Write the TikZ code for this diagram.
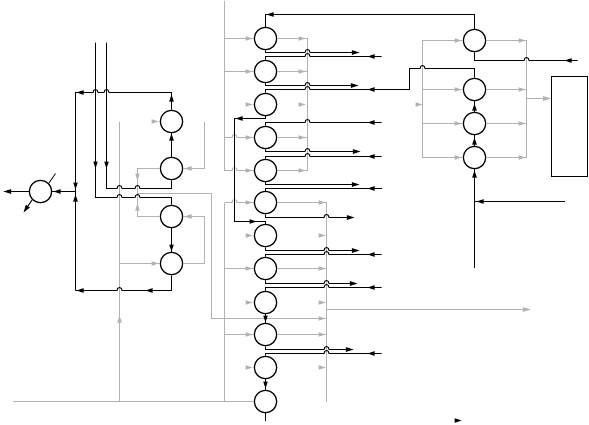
\documentclass[tikz,border=0pt]{standalone}
\usetikzlibrary{arrows.meta}
\definecolor{gl}{gray}{0.7}
\newcommand\jumpR[2]{-- ({#1-2.5},#2) .. controls ({#1-2.5},{#2-4}) and ({#1+2.5},{#2-4}) .. ({#1+2.5},#2)}
\newcommand\jumpL[2]{-- ({#1+2.5},#2) .. controls ({#1+2.5},{#2-4}) and ({#1-2.5},{#2-4}) .. ({#1-2.5},#2)}
\newcommand\ah[4]{\fill[#4,shift={(#1,#2)},rotate=#3] (0,0) -- (-7,2.3) -- (-7,-2.3) -- cycle;}
\tikzset{
  blk/.style={black,line width=0.8pt},
  gry/.style={gl,line width=0.75pt},
  tipb/.style={-{Triangle[length=6.5pt,width=3.8pt]}},
  ring/.style={circle,draw=black,line width=1.05pt,minimum size=19pt,inner sep=0pt,fill=white},
  boxn/.style={draw=black,line width=1.1pt,minimum width=30.6pt,minimum height=85pt,inner sep=0pt}
}
\begin{document}
\begin{tikzpicture}[x=0.85pt,y=-0.85pt]
\useasboundingbox (-0.5,-0.5) rectangle (588.5,423.5);
% nodes
\foreach \n/\yy in {1/38,2/71,3/104,4/137,5/170,6/202,7/235,8/268,9/302,10/334,11/367,12/401}
  \node[ring] (c\n) at (265,\yy) {};
\foreach \n/\yy in {1/121,2/168,3/216,4/263}
  \node[ring] (l\n) at (171,\yy) {};
\foreach \n/\yy in {1/40,2/89,3/123,4/157}
  \node[ring] (r\n) at (474,\yy) {};
\node[ring] (f) at (40,191) {};
\node[boxn] (box) at (569,126) {};
% free ends
\foreach \n/\xx/\yy in {
 a1/359/52,a2/381/56,a3/358/85,a4/354/217,a5/381/122,a6/360/151,a7/381/156,a8/359/184,a9/381/188,
 a10/359/250,a11/381/254,a12/357/283,a13/381/287,a14/353/349,a15/381/353,a16/265/420,
 b1/95/42,b2/106/42,b3/3/191,b4/23/212,b5/55/173,
 d1/577/60,d2/564/201,d3/474/267,
 g1/224/0,g2/224/170,g3/224/202,g4/224/401,g5/13/401,g6/119/121,g7/204/121,
 g8/530/309,g9/325/318,g10/211/193,g11/137/193,
 j1/75/92,j2/75/290,j3/234/118,j4/234/221,j5/75/191}
  \coordinate (\n) at (\xx,\yy);

% ---------- grey ----------
\draw[gry] (g1) -- (g2);
\draw[gry] (g3) -- (g4);
\draw[gry] (g5) -- (c12.west);
\draw[gry] (224,38) -- (c1.west);
\draw[gry,line width=0.95pt] (224,71) -- (c2.west);
\draw[gry] (224,137) \jumpR{234}{137} -- (c4.west);
\draw[gry] (g2) \jumpR{234}{170} -- (c5.west);
\draw[gry] (g3) \jumpR{234}{202} -- (c6.west);
\draw[gry] (224,268) -- (c8.west);
\draw[gry] (224,334) -- (c10.west);
\foreach \yy in {38,71,104,137,170,202,235,268,302,334,367} \ah{252}{\yy}{0}{gl}
\draw[gry] (c1.east) -- (307,38) -- (307,170) -- (c5.east);
\draw[gry,line width=0.95pt] (c2.east) -- (307,71);
\draw[gry] (c4.east) -- (307,137);
\foreach \yy in {38,71,104,137,170} \ah{305}{\yy}{0}{gl}
\draw[gry] (c6.east) -- (326,202) -- (326,401);
\draw[gry] (c8.east) -- (326,268);
\draw[gry] (c10.east) -- (326,334);
\foreach \yy in {202,235,268,302,334,367} \ah{325}{\yy}{0}{gl}
\draw[gry] (g11) -- (g10) -- (211,318) -- (g9);
\ah{325}{318}{0}{gl}
\draw[gry,tipb] (326,309) -- (g8);
% left cluster grey
\draw[gry] (g6) -- (119,401);
\ah{119}{315}{90}{gl}
\draw[gry] (119,263) -- (l4.west);
\ah{158}{263}{0}{gl}
\ah{158}{121}{0}{gl}
\draw[gry] (g7) -- (204,168) -- (l2.east);
\ah{184}{168}{180}{gl}
\draw[gry] (l4.east) -- (204,263) -- (204,216) -- (l3.east);
\ah{184}{216}{180}{gl}
\draw[gry] (l2.west) -- (137,168) -- (137,216) -- (l3.west);
\ah{137}{180}{270}{gl}
\ah{137}{203}{90}{gl}
% right cluster grey
\draw[gry] (r1.west) -- (422,40) -- (422,157) -- (r4.west);
\draw[gry] (422,89) -- (r2.west);
\draw[gry] (422,123) -- (r3.west);
\draw[gry] (r1.east) -- (526,40) -- (526,157) -- (r4.east);
\draw[gry] (r2.east) -- (526,89);
\draw[gry] (r3.east) -- (526,123);
\foreach \yy in {40,89,123,157} {\ah{461}{\yy}{0}{gl}\ah{525}{\yy}{0}{gl}}
\draw[gry,tipb] (526,98) -- (box.west |- 526,98);
\ah{422}{104}{0}{gl}

% ---------- black main column ----------
\draw[blk] (r1.north) -- (474,14) -- (265,14) -- (c1.north);
\ah{266}{14}{180}{black}
\draw[blk,tipb] (c1.south) -- (265,52) \jumpR{307}{52} -- (a1);
\draw[blk] (c2.north) -- (265,56) \jumpR{307}{56} -- (a2);
\ah{367}{56}{180}{black}
\draw[blk,tipb] (c2.south) -- (265,85) \jumpR{307}{85} -- (a3);
\draw[blk] (c3.north) -- (265,89) \jumpR{307}{89} -- (409,89) -- (409,68) \jumpR{422}{68} -- (474,68) -- (r2.north);
\ah{367}{89}{180}{black}
\draw[blk] (c3.south) -- (265,118) -- (j3) -- (j4) -- (265,221) -- (c7.north);
\ah{235}{118}{180}{black}
\ah{256}{221}{0}{black}
\draw[blk] (c4.north) -- (265,122) \jumpR{307}{122} -- (a5);
\ah{367}{122}{180}{black}
\draw[blk,tipb] (c4.south) -- (265,151) \jumpR{307}{151} -- (a6);
\draw[blk] (c5.north) -- (265,156) \jumpR{307}{156} -- (a7);
\ah{367}{156}{180}{black}
\draw[blk,tipb] (c5.south) -- (265,184) -- (a8);
\draw[blk] (c6.north) -- (265,188) -- (a9);
\ah{367}{188}{180}{black}
\draw[blk,tipb] (c6.south) -- (265,217) \jumpR{326}{217} -- (a4);
\draw[blk,tipb] (c7.south) -- (265,250) \jumpR{326}{250} -- (a10);
\draw[blk] (c8.north) -- (265,254) \jumpR{326}{254} -- (a11);
\ah{367}{254}{180}{black}
\draw[blk,tipb] (c8.south) -- (265,283) \jumpR{326}{283} -- (a12);
\draw[blk] (c9.north) -- (265,287) \jumpR{326}{287} -- (a13);
\ah{367}{287}{180}{black}
\draw[blk] (c9.south) -- (c10.north);
\ah{265}{322}{270}{black}
\draw[blk,tipb] (c10.south) -- (265,349) \jumpR{326}{349} -- (a14);
\draw[blk] (c11.north) -- (265,353) \jumpR{326}{353} -- (a15);
\ah{367}{353}{180}{black}
\draw[blk] (c11.south) -- (c12.north);
\ah{265}{388}{270}{black}
\draw[blk] (c12.south) -- (a16);

% ---------- black left cluster ----------
\draw[blk] (l1.north) -- (171,92) \jumpL{106}{92} \jumpL{95}{92} -- (j1) -- (j2);
\ah{76}{92}{180}{black}
\ah{171}{94}{90}{black}
\draw[blk] (l2.north) -- (l1.south);
\ah{171}{133}{90}{black}
\draw[blk] (l3.south) -- (l4.north);
\ah{171}{251}{270}{black}
\draw[blk] (l4.south) -- (171,290) \jumpL{119}{290} -- (j2);
\ah{145}{290}{180}{black}
\ah{76}{290}{180}{black}
\ah{75}{189}{270}{black}
\ah{75}{194}{90}{black}
\draw[blk] (b1) -- (95,197) \jumpR{119}{197} \jumpR{137}{197} -- (171,197) -- (l3.north);
\draw[blk] (b2) -- (106,188) \jumpR{119}{188} \jumpR{137}{188} -- (171,188) -- (l2.south);
\ah{95}{168}{270}{black}
\ah{106}{168}{270}{black}
\draw[blk] (j5) -- (f.east);
\ah{53}{191}{180}{black}
\draw[blk,tipb] (f.west) -- (b3);
\draw[blk,tipb] (f.south west) -- (b4);
\draw[blk,line width=0.65pt] (f.north east) -- (b5);

% ---------- black right cluster ----------
\draw[blk] (r1.south) -- (474,60) \jumpR{526}{60} -- (d1);
\ah{564}{60}{180}{black}
\draw[blk] (r3.north) -- (r2.south);
\ah{474}{103}{90}{black}
\draw[blk] (r4.north) -- (r3.south);
\ah{474}{137}{90}{black}
\draw[blk] (d3) -- (r4.south);
\ah{474}{170}{90}{black}
\draw[blk] (d2) -- (474,201);
\ah{476}{201}{180}{black}
\ah{461}{420}{0}{black}
\end{tikzpicture}
\end{document}
